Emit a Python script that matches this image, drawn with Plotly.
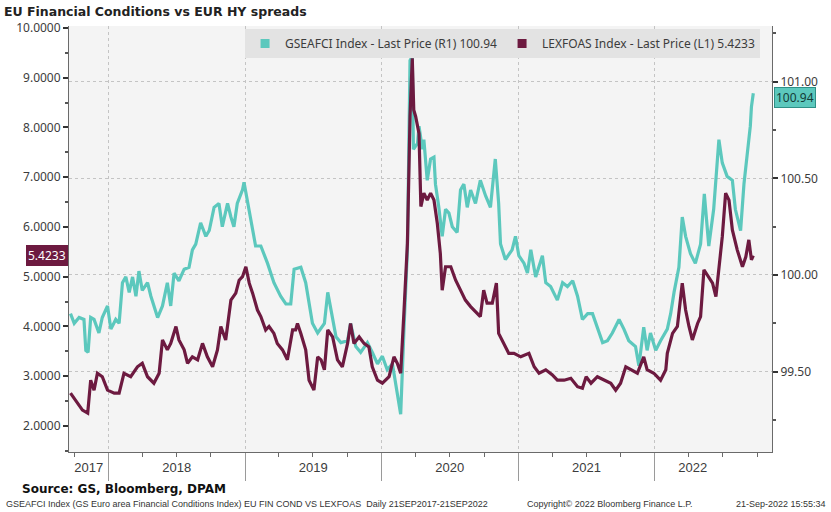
import plotly.graph_objects as go

# ---------------- data ----------------
gs_dates = [
    "2017-09-21","2017-10-01","2017-10-14","2017-10-27","2017-11-01","2017-11-07","2017-11-14","2017-11-23","2017-12-06","2017-12-15","2017-12-29",
    "2018-01-07","2018-01-20","2018-01-29","2018-02-07","2018-02-16","2018-02-25","2018-03-06","2018-03-15","2018-03-23","2018-04-01","2018-04-15","2018-04-24","2018-05-12","2018-05-25","2018-06-07","2018-06-16","2018-06-25","2018-07-08","2018-07-22","2018-08-04","2018-08-13","2018-08-22","2018-09-04","2018-09-18","2018-09-27","2018-10-10","2018-10-23","2018-11-01","2018-11-15","2018-11-24","2018-12-02","2018-12-11","2018-12-25","2018-12-29",
    "2019-01-07","2019-01-21","2019-01-29","2019-02-12","2019-03-02","2019-03-19","2019-04-06","2019-04-20","2019-05-03","2019-05-12","2019-05-30","2019-06-12","2019-06-21","2019-06-30","2019-07-14","2019-08-01","2019-08-10","2019-08-23","2019-09-01","2019-09-14","2019-10-02","2019-10-10","2019-10-24","2019-11-06","2019-11-24","2019-12-07","2019-12-21",
    "2020-01-03","2020-01-16","2020-01-30","2020-02-12","2020-02-21","2020-03-01","2020-03-10","2020-03-17","2020-03-23","2020-03-26","2020-04-06","2020-04-10","2020-04-19","2020-04-23","2020-05-02","2020-05-11","2020-05-20","2020-05-24","2020-06-02","2020-06-11","2020-06-20","2020-06-29","2020-07-08","2020-07-21","2020-07-30","2020-08-08","2020-08-17","2020-08-26","2020-09-08","2020-09-21","2020-10-05","2020-10-18","2020-10-31","2020-11-09","2020-11-14","2020-11-27","2020-12-15","2020-12-24",
    "2021-01-02","2021-01-16","2021-01-25","2021-02-03","2021-02-16","2021-03-06","2021-03-15","2021-03-28","2021-04-15","2021-04-29","2021-05-12","2021-05-26","2021-06-08","2021-06-21","2021-07-05","2021-07-18","2021-07-31","2021-08-14","2021-08-27","2021-09-09","2021-09-27","2021-10-10","2021-10-23","2021-11-10","2021-11-19","2021-12-02","2021-12-11","2021-12-20",
    "2022-01-03","2022-01-16","2022-02-03","2022-02-12","2022-02-21","2022-03-06","2022-03-15","2022-03-24","2022-04-06","2022-04-19","2022-05-03","2022-05-13","2022-05-25","2022-06-07","2022-06-21","2022-06-30","2022-07-13","2022-07-27","2022-08-04","2022-08-18","2022-08-27","2022-09-07","2022-09-13","2022-09-16","2022-09-21",
]
gs_values = [
    99.80, 99.75, 99.78, 99.77, 99.61, 99.60, 99.78, 99.77, 99.70, 99.78, 99.84,
    99.72, 99.77, 99.75, 99.96, 99.99, 99.91, 99.99, 99.89, 100.02, 99.92, 99.96, 99.89, 99.78, 99.84, 99.96, 99.84, 100.01, 99.97, 100.03, 100.04, 100.13, 100.16, 100.27, 100.20, 100.23, 100.35, 100.37, 100.25, 100.37, 100.30, 100.25, 100.37, 100.44, 100.48,
    100.39, 100.23, 100.15, 100.15, 100.06, 99.96, 99.89, 99.85, 99.85, 100.03, 100.04, 99.96, 99.85, 99.75, 99.70, 99.75, 99.91, 99.78, 99.68, 99.65, 99.66, 99.75, 99.63, 99.60, 99.65, 99.60, 99.54,
    99.58, 99.51, 99.54, 99.39, 99.28, 99.73, 100.13, 101.11, 101.13, 100.65, 100.68, 100.77, 100.65, 100.70, 100.49, 100.60, 100.61, 100.47, 100.35, 100.20, 100.34, 100.32, 100.25, 100.22, 100.44, 100.47, 100.35, 100.44, 100.37, 100.49, 100.41, 100.35, 100.60, 100.37, 100.16, 100.08, 100.13, 100.20,
    100.10, 100.06, 100.01, 100.13, 99.99, 100.10, 99.96, 99.94, 99.87, 99.96, 99.94, 99.97, 99.89, 99.77, 99.80, 99.80, 99.73, 99.65, 99.66, 99.70, 99.77, 99.72, 99.66, 99.63, 99.53, 99.73, 99.61, 99.70,
    99.61, 99.66, 99.72, 99.80, 99.91, 100.04, 100.30, 100.20, 100.11, 100.06, 100.16, 100.42, 100.15, 100.34, 100.70, 100.58, 100.51, 100.49, 100.34, 100.23, 100.47, 100.68, 100.77, 100.87, 100.94,
]

lex_dates = [
    "2017-09-21","2017-10-10","2017-10-23","2017-11-06","2017-11-14","2017-11-23","2017-12-02","2017-12-15","2017-12-29",
    "2018-01-16","2018-01-29","2018-02-11","2018-03-01","2018-03-19","2018-04-01","2018-04-15","2018-05-02","2018-05-16","2018-05-25","2018-06-07","2018-06-16","2018-06-30","2018-07-08","2018-07-22","2018-07-31","2018-08-13","2018-08-27","2018-09-09","2018-09-22","2018-10-06","2018-10-19","2018-10-28","2018-11-10","2018-11-24","2018-12-07","2018-12-16","2018-12-25",
    "2019-01-03","2019-01-12","2019-01-21","2019-02-03","2019-02-12","2019-02-25","2019-03-06","2019-03-19","2019-03-28","2019-04-11","2019-04-24","2019-05-08","2019-05-16","2019-05-21","2019-05-30","2019-06-12","2019-06-21","2019-07-04","2019-07-14","2019-07-23","2019-08-01","2019-08-10","2019-08-23","2019-09-05","2019-09-18","2019-10-02","2019-10-10","2019-10-19","2019-11-02","2019-11-15","2019-11-28","2019-12-07","2019-12-21",
    "2020-01-03","2020-01-21","2020-02-03","2020-02-12","2020-02-21","2020-03-01","2020-03-10","2020-03-17","2020-03-23","2020-03-27","2020-04-01","2020-04-10","2020-04-15","2020-04-23","2020-05-02","2020-05-11","2020-05-20","2020-05-29","2020-06-06","2020-06-11","2020-06-20","2020-07-04","2020-07-17","2020-07-30","2020-08-12","2020-08-26","2020-09-12","2020-09-21","2020-09-30","2020-10-09","2020-10-23","2020-11-03","2020-11-09","2020-11-22","2020-12-06","2020-12-20",
    "2021-01-07","2021-01-29","2021-02-12","2021-02-25","2021-03-15","2021-04-01","2021-04-15","2021-05-03","2021-05-21","2021-06-08","2021-06-21","2021-07-01","2021-07-14","2021-07-31","2021-08-18","2021-09-05","2021-09-18","2021-10-01","2021-10-15","2021-10-28","2021-11-15","2021-12-02","2021-12-11","2021-12-29",
    "2022-01-16","2022-01-30","2022-02-03","2022-02-17","2022-03-02","2022-03-15","2022-03-24","2022-04-02","2022-04-11","2022-04-25","2022-05-03","2022-05-12","2022-05-25","2022-06-04","2022-06-13","2022-06-21","2022-06-30","2022-07-09","2022-07-18","2022-07-27","2022-08-09","2022-08-23","2022-09-01","2022-09-09","2022-09-13","2022-09-16","2022-09-21",
]
lex_values = [
    2.66, 2.46, 2.32, 2.26, 2.92, 2.72, 3.06, 2.99, 2.72,
    2.66, 2.66, 3.06, 2.99, 3.19, 3.26, 2.99, 2.86, 3.06, 3.73, 3.53, 3.66, 4.00, 3.73, 3.53, 3.26, 3.39, 3.33, 3.66, 3.39, 3.19, 3.53, 4.00, 3.73, 4.53, 4.67, 4.93, 5.00,
    5.20, 4.87, 4.67, 4.33, 4.20, 3.93, 4.00, 3.86, 3.66, 3.53, 3.33, 3.93, 3.93, 4.06, 3.86, 3.53, 2.92, 2.72, 3.39, 3.33, 3.13, 3.93, 3.79, 3.33, 3.19, 3.66, 4.06, 3.66, 3.79, 3.66, 3.59, 3.19, 2.92,
    2.86, 2.99, 3.39, 3.26, 3.06, 4.33, 5.67, 8.22, 9.39, 8.35, 8.22, 7.88, 6.41, 6.68, 6.54, 6.68, 6.54, 6.07, 5.47, 4.73, 5.20, 5.20, 4.93, 4.73, 4.53, 4.40, 4.27, 4.20, 4.73, 4.47, 4.47, 4.87, 3.86, 3.66, 3.46, 3.46,
    3.39, 3.46, 3.19, 3.06, 3.13, 3.03, 2.92, 2.92, 2.96, 2.79, 2.76, 2.99, 2.86, 2.99, 2.92, 2.86, 2.72, 2.86, 3.19, 3.13, 3.06, 3.39, 3.13, 3.06,
    2.92, 3.13, 3.46, 3.86, 4.00, 4.87, 4.33, 4.00, 3.73, 4.06, 4.20, 5.14, 5.00, 4.87, 4.60, 5.20, 5.80, 6.68, 6.54, 5.94, 5.54, 5.20, 5.40, 5.74, 5.47, 5.34, 5.4233,
]

year_bounds = ["2018-01-01", "2019-01-01", "2020-01-01", "2021-01-01", "2022-01-01"]
year_label_pos = ["2017-11-09", "2018-07-02", "2019-07-02", "2020-07-01", "2021-07-02", "2022-04-12"]
year_labels = ["2017", "2018", "2019", "2020", "2021", "2022"]

gs_name = "GSEAFCI Index - Last Price (R1) 100.94"
lex_name = "LEXFOAS Index - Last Price (L1) 5.4233"
gs_last = "100.94"
lex_last = "5.4233"

title_text = "EU Financial Conditions vs EUR HY spreads"
source_text = "Source: GS, Bloomberg, DPAM"
footer_left = "GSEAFCI Index (GS Euro area Financial Conditions Index) EU FIN COND VS LEXFOAS  Daily 21SEP2017-21SEP2022"
footer_mid = "Copyright© 2022 Bloomberg Finance L.P."
footer_right = "21-Sep-2022 15:55:34"

TEAL = "#5cc8bd"
MAROON = "#6d1a40"
XRANGE = ["2017-09-17", "2022-11-10"]

# plot-area pixel box (used only to place the footer texts)
PL, PR, PT, PB = 69, 772, 26, 452
def px_to_paper(px, py):
    return (px - PL) / (PR - PL), (PB - py) / (PB - PT)

fig = go.Figure()

# teal on the main (right-side) axis, maroon on the overlay (left-side) axis so it draws on top
fig.add_trace(go.Scatter(x=gs_dates, y=gs_values, mode="lines", line=dict(color=TEAL, width=3.2),
                         yaxis="y", xaxis="x", showlegend=False))
fig.add_trace(go.Scatter(x=lex_dates, y=lex_values, mode="lines", line=dict(color=MAROON, width=3.2),
                         yaxis="y2", xaxis="x", showlegend=False))
# legend entries with square swatches
fig.add_trace(go.Scatter(x=[None], y=[None], mode="markers", name=gs_name,
                         marker=dict(symbol="square", size=9, color=TEAL), yaxis="y"))
fig.add_trace(go.Scatter(x=[None], y=[None], mode="markers", name=lex_name,
                         marker=dict(symbol="square", size=9, color=MAROON), yaxis="y"))
# invisible trace that activates the year-label axis
fig.add_trace(go.Scatter(x=[XRANGE[0]], y=[None], xaxis="x2", yaxis="y", showlegend=False,
                         mode="markers", marker=dict(opacity=0), hoverinfo="skip"))

tick_font = dict(family="Noto Sans", size=12, color="#3c3c3c")

fig.update_layout(
    width=831, height=512,
    margin=dict(l=PL, r=831 - PR, t=PT, b=512 - PB),
    paper_bgcolor="white",
    plot_bgcolor="#f4f4f4",
    font=dict(family="Noto Sans", color="#3c3c3c"),
    title=dict(text=title_text, xref="container", yref="container",
               x=4/831, xanchor="left", y=1-12/512, yanchor="middle",
               font=dict(family="DejaVu Sans", size=12.5, weight="bold", color="#222")),
    xaxis=dict(type="date", range=XRANGE, tickmode="array", tickvals=year_bounds,
               ticktext=[""] * len(year_bounds), ticks="outside", ticklen=28, tickwidth=1,
               tickcolor="#9a9a9a", showgrid=True, gridcolor="#c4c4c4", griddash="dot", gridwidth=1,
               showline=True, linecolor="#6a6a6a", linewidth=1, zeroline=False,
               minor=dict(tickmode="linear", tick0="2017-10-01", dtick="M3", ticks="outside",
                          ticklen=4, tickcolor="#6a6a6a", showgrid=False)),
    xaxis2=dict(type="date", range=XRANGE, overlaying="x", anchor="y", side="bottom",
                tickmode="array", tickvals=year_label_pos, ticktext=year_labels,
                ticks="outside", ticklen=3, tickcolor="rgba(0,0,0,0)", showgrid=False,
                showline=False, zeroline=False,
                tickfont=dict(family="Liberation Sans", size=13, color="#3c3c3c")),
    yaxis=dict(side="right", range=[99.0843, 101.288], tickmode="linear", tick0=99.5, dtick=0.5,
               tickformat=".2f", ticks="outside", ticklen=5, tickwidth=1.5, tickcolor="#333",
               showline=True, linecolor="#6a6a6a", linewidth=1, zeroline=False,
               showgrid=True, gridcolor="#c4c4c4", griddash="dot", gridwidth=1,
               minor=dict(dtick=0.25, tick0=99.5, ticks="outside", ticklen=3, tickcolor="#555", showgrid=False),
               tickfont=tick_font),
    yaxis2=dict(side="left", overlaying="y", range=[1.4775, 10.0386], tickmode="linear", tick0=2, dtick=1,
                tickformat=".4f", ticks="outside", ticklen=5, tickwidth=1.5, tickcolor="#333",
                showline=True, linecolor="#6a6a6a", linewidth=1, zeroline=False, showgrid=False,
                minor=dict(dtick=0.5, tick0=2, ticks="outside", ticklen=3, tickcolor="#555", showgrid=False),
                tickfont=tick_font),
    legend=dict(orientation="h", x=0.983, xanchor="right", y=0.993, yanchor="top",
                bgcolor="#e3e3e3", borderwidth=0, itemwidth=30, tracegroupgap=0,
                font=dict(family="Noto Sans", size=12, color="#3c3c3c"), itemclick=False),
    showlegend=True,
)

# last-price labels on the axes
fig.add_annotation(x=0, xref="paper", xanchor="right", y=float(lex_last), yref="y2", yanchor="middle",
                   text=lex_last, showarrow=False, bgcolor=MAROON, bordercolor=MAROON, borderpad=1,
                   font=dict(family="Noto Sans", size=12, color="white"), xshift=-1)
fig.add_annotation(x=1, xref="paper", xanchor="left", y=float(gs_last), yref="y", yanchor="top",
                   text=gs_last, showarrow=False, bgcolor=TEAL, bordercolor="#2f8f86", borderpad=1,
                   font=dict(family="Noto Sans", size=12, color="#143c38"), xshift=2, yshift=6)

# source / footer
sx, sy = px_to_paper(20, 489)
fig.add_annotation(x=sx, y=sy, xref="paper", yref="paper", xanchor="left", yanchor="middle",
                   text="<b>" + source_text + "</b>", showarrow=False,
                   font=dict(family="DejaVu Sans", size=12, color="#111"))
foot_font = dict(family="Liberation Sans", size=9, color="#333")
fx, fy = px_to_paper(4, 504)
fig.add_annotation(x=fx, y=fy, xref="paper", yref="paper", showarrow=False, xanchor="left", yanchor="middle",
                   text=footer_left, font=foot_font)
cx, cy = px_to_paper(525, 504)
fig.add_annotation(x=cx, y=cy, xref="paper", yref="paper", showarrow=False, xanchor="left", yanchor="middle",
                   text=footer_mid, font=foot_font)
tx, ty = px_to_paper(828, 504)
fig.add_annotation(x=tx, y=ty, xref="paper", yref="paper", showarrow=False, xanchor="right", yanchor="middle",
                   text=footer_right, font=foot_font)

fig.write_html("out.html")
